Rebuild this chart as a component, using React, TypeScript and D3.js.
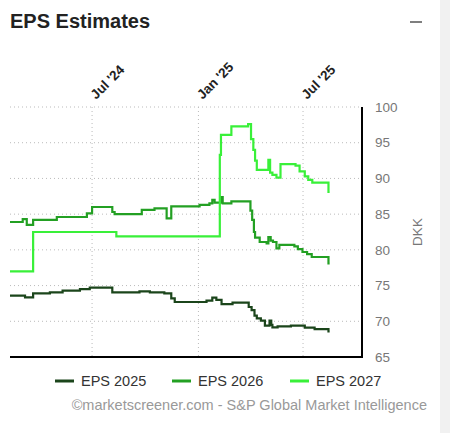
import { scaleLinear, scaleTime, line, curveStepAfter, timeFormat } from "d3";

const width = 450;
const height = 433;
const font = "'Liberation Sans', Arial, sans-serif";

// EPS estimates, date → DKK
const eps2025: [string, number][] = [
  ["2024-02-10", 73.6], ["2024-03-07", 73.35], ["2024-03-21", 73.9], ["2024-04-19", 74.05],
  ["2024-05-11", 74.3], ["2024-06-10", 74.5], ["2024-06-27", 74.7], ["2024-08-05", 74.05],
  ["2024-09-21", 74.2], ["2024-10-09", 74.05], ["2024-11-03", 73.9], ["2024-11-15", 73.2],
  ["2024-11-21", 72.7], ["2025-01-15", 72.9], ["2025-01-25", 73.3], ["2025-02-01", 73.0],
  ["2025-02-10", 72.4], ["2025-03-01", 72.6], ["2025-03-29", 72.0], ["2025-04-03", 71.55],
  ["2025-04-08", 70.8], ["2025-04-12", 70.4], ["2025-04-19", 70.1], ["2025-04-26", 69.4],
  ["2025-05-04", 70.1], ["2025-05-07", 69.5], ["2025-05-09", 69.15], ["2025-05-18", 69.3],
  ["2025-06-10", 69.4], ["2025-07-04", 69.1], ["2025-07-21", 68.9], ["2025-08-14", 68.6],
  ["2025-08-16", 68.6],
];

const eps2026: [string, number][] = [
  ["2024-02-10", 83.9], ["2024-03-03", 84.3], ["2024-03-10", 83.5], ["2024-03-21", 84.2],
  ["2024-05-01", 84.6], ["2024-06-22", 85.1], ["2024-07-01", 86.0], ["2024-08-05", 85.3],
  ["2024-08-09", 85.0], ["2024-09-25", 85.6], ["2024-10-17", 85.8], ["2024-11-07", 84.4],
  ["2024-11-15", 86.1], ["2025-01-03", 86.3], ["2025-01-20", 86.5], ["2025-01-25", 87.0],
  ["2025-01-29", 86.6], ["2025-02-09", 87.4], ["2025-02-12", 86.5], ["2025-02-27", 86.8],
  ["2025-04-01", 85.5], ["2025-04-04", 84.2], ["2025-04-07", 82.5], ["2025-04-09", 81.7],
  ["2025-04-17", 81.1], ["2025-04-29", 80.9], ["2025-05-02", 81.8], ["2025-05-06", 81.3],
  ["2025-05-10", 81.1], ["2025-05-16", 80.2], ["2025-05-21", 80.7], ["2025-06-16", 80.5],
  ["2025-06-22", 80.1], ["2025-06-30", 79.7], ["2025-07-08", 79.4], ["2025-07-16", 79.0],
  ["2025-08-14", 78.1], ["2025-08-16", 78.1],
];

const eps2027: [string, number][] = [
  ["2024-02-10", 77.0], ["2024-03-21", 82.5], ["2024-08-12", 81.9], ["2025-02-07", 93.3],
  ["2025-02-09", 96.1], ["2025-02-27", 97.3], ["2025-03-28", 97.6], ["2025-04-02", 95.5],
  ["2025-04-06", 94.0], ["2025-04-09", 92.5], ["2025-04-12", 91.2], ["2025-05-02", 92.6],
  ["2025-05-05", 90.8], ["2025-05-09", 90.5], ["2025-05-16", 90.1], ["2025-05-23", 92.0],
  ["2025-06-18", 91.8], ["2025-06-25", 91.0], ["2025-07-04", 90.3], ["2025-07-10", 89.8],
  ["2025-07-17", 89.4], ["2025-08-14", 88.1], ["2025-08-16", 88.1],
];

const seriesNames = ["EPS 2025", "EPS 2026", "EPS 2027"];
const seriesData = [eps2025, eps2026, eps2027];
const colors = ["#1b451b", "#23a023", "#39f039"];

const xTicks = ["2024-07-01", "2025-01-01", "2025-07-01"];
const yTicks = [65, 70, 75, 80, 85, 90, 95, 100];
const xDomain = ["2024-02-10", "2025-10-11"];

const plot = { left: 10, right: 362, top: 107, bottom: 357 };

const App = () => {
  const x = scaleTime()
    .domain(xDomain.map((d) => new Date(d)))
    .range([plot.left, plot.right]);
  const y = scaleLinear().domain([65, 100]).range([plot.bottom, plot.top]);
  const fmt = timeFormat("%b '%y");

  const path = line<[string, number]>()
    .x((d) => x(new Date(d[0])))
    .y((d) => y(d[1]))
    .curve(curveStepAfter);

  const legendX = [55, 172, 290];

  return (
    <svg
      width={width}
      height={height}
      style={{ position: "absolute", left: 0, top: 0, background: "#fff" }}
      fontFamily={font}
    >
      <rect x={440} y={0} width={10} height={height} fill="#f1f1f1" />
      <text x={10} y={28} fontSize={20} fontWeight="bold" fill="#222">
        EPS Estimates
      </text>
      <line x1={410} x2={422} y1={22} y2={22} stroke="#555" strokeWidth={1.5} />

      {/* grid */}
      {yTicks
        .filter((t) => t > 65)
        .map((t) => (
          <line
            key={t}
            x1={plot.left}
            x2={plot.right}
            y1={y(t)}
            y2={y(t)}
            stroke="#bbb"
            strokeDasharray="1,3"
          />
        ))}
      {xTicks.map((t) => (
        <line
          key={t}
          x1={x(new Date(t))}
          x2={x(new Date(t))}
          y1={plot.top}
          y2={plot.bottom}
          stroke="#bbb"
          strokeDasharray="1,3"
        />
      ))}

      {seriesData.map((s, i) => (
        <path key={i} d={path(s)!} fill="none" stroke={colors[i]} strokeWidth={2.2} />
      ))}

      {/* axes */}
      <line x1={plot.right} x2={plot.right} y1={plot.top} y2={plot.bottom + 1} stroke="#000" strokeWidth={2} />
      <line x1={plot.left} x2={plot.right + 1} y1={plot.bottom} y2={plot.bottom} stroke="#000" strokeWidth={2} />

      {yTicks.map((t) => (
        <text key={t} x={375} y={y(t)} dy="0.35em" fontSize={13.5} fill="#777">
          {t}
        </text>
      ))}
      <text
        transform={`translate(422, ${(plot.top + plot.bottom) / 2}) rotate(-90)`}
        textAnchor="middle"
        fontSize={13.5}
        fill="#777"
      >
        DKK
      </text>

      {xTicks.map((t) => (
        <text
          key={t}
          transform={`translate(${x(new Date(t)) + 4}, ${plot.top - 7}) rotate(-45)`}
          fontSize={13.5}
          fontWeight="bold"
          fill="#222"
        >
          {fmt(new Date(t))}
        </text>
      ))}

      {/* legend */}
      {seriesNames.map((n, i) => (
        <g key={n}>
          <line x1={legendX[i]} x2={legendX[i] + 19} y1={381} y2={381} stroke={colors[i]} strokeWidth={3} />
          <text x={legendX[i] + 26} y={381} dy="0.35em" fontSize={14.5} fill="#333">
            {n}
          </text>
        </g>
      ))}

      <text x={427} y={405} dy="0.35em" textAnchor="end" fontSize={14.5} fill="#999">
        ©marketscreener.com - S&amp;P Global Market Intelligence
      </text>
    </svg>
  );
};

export default App;
